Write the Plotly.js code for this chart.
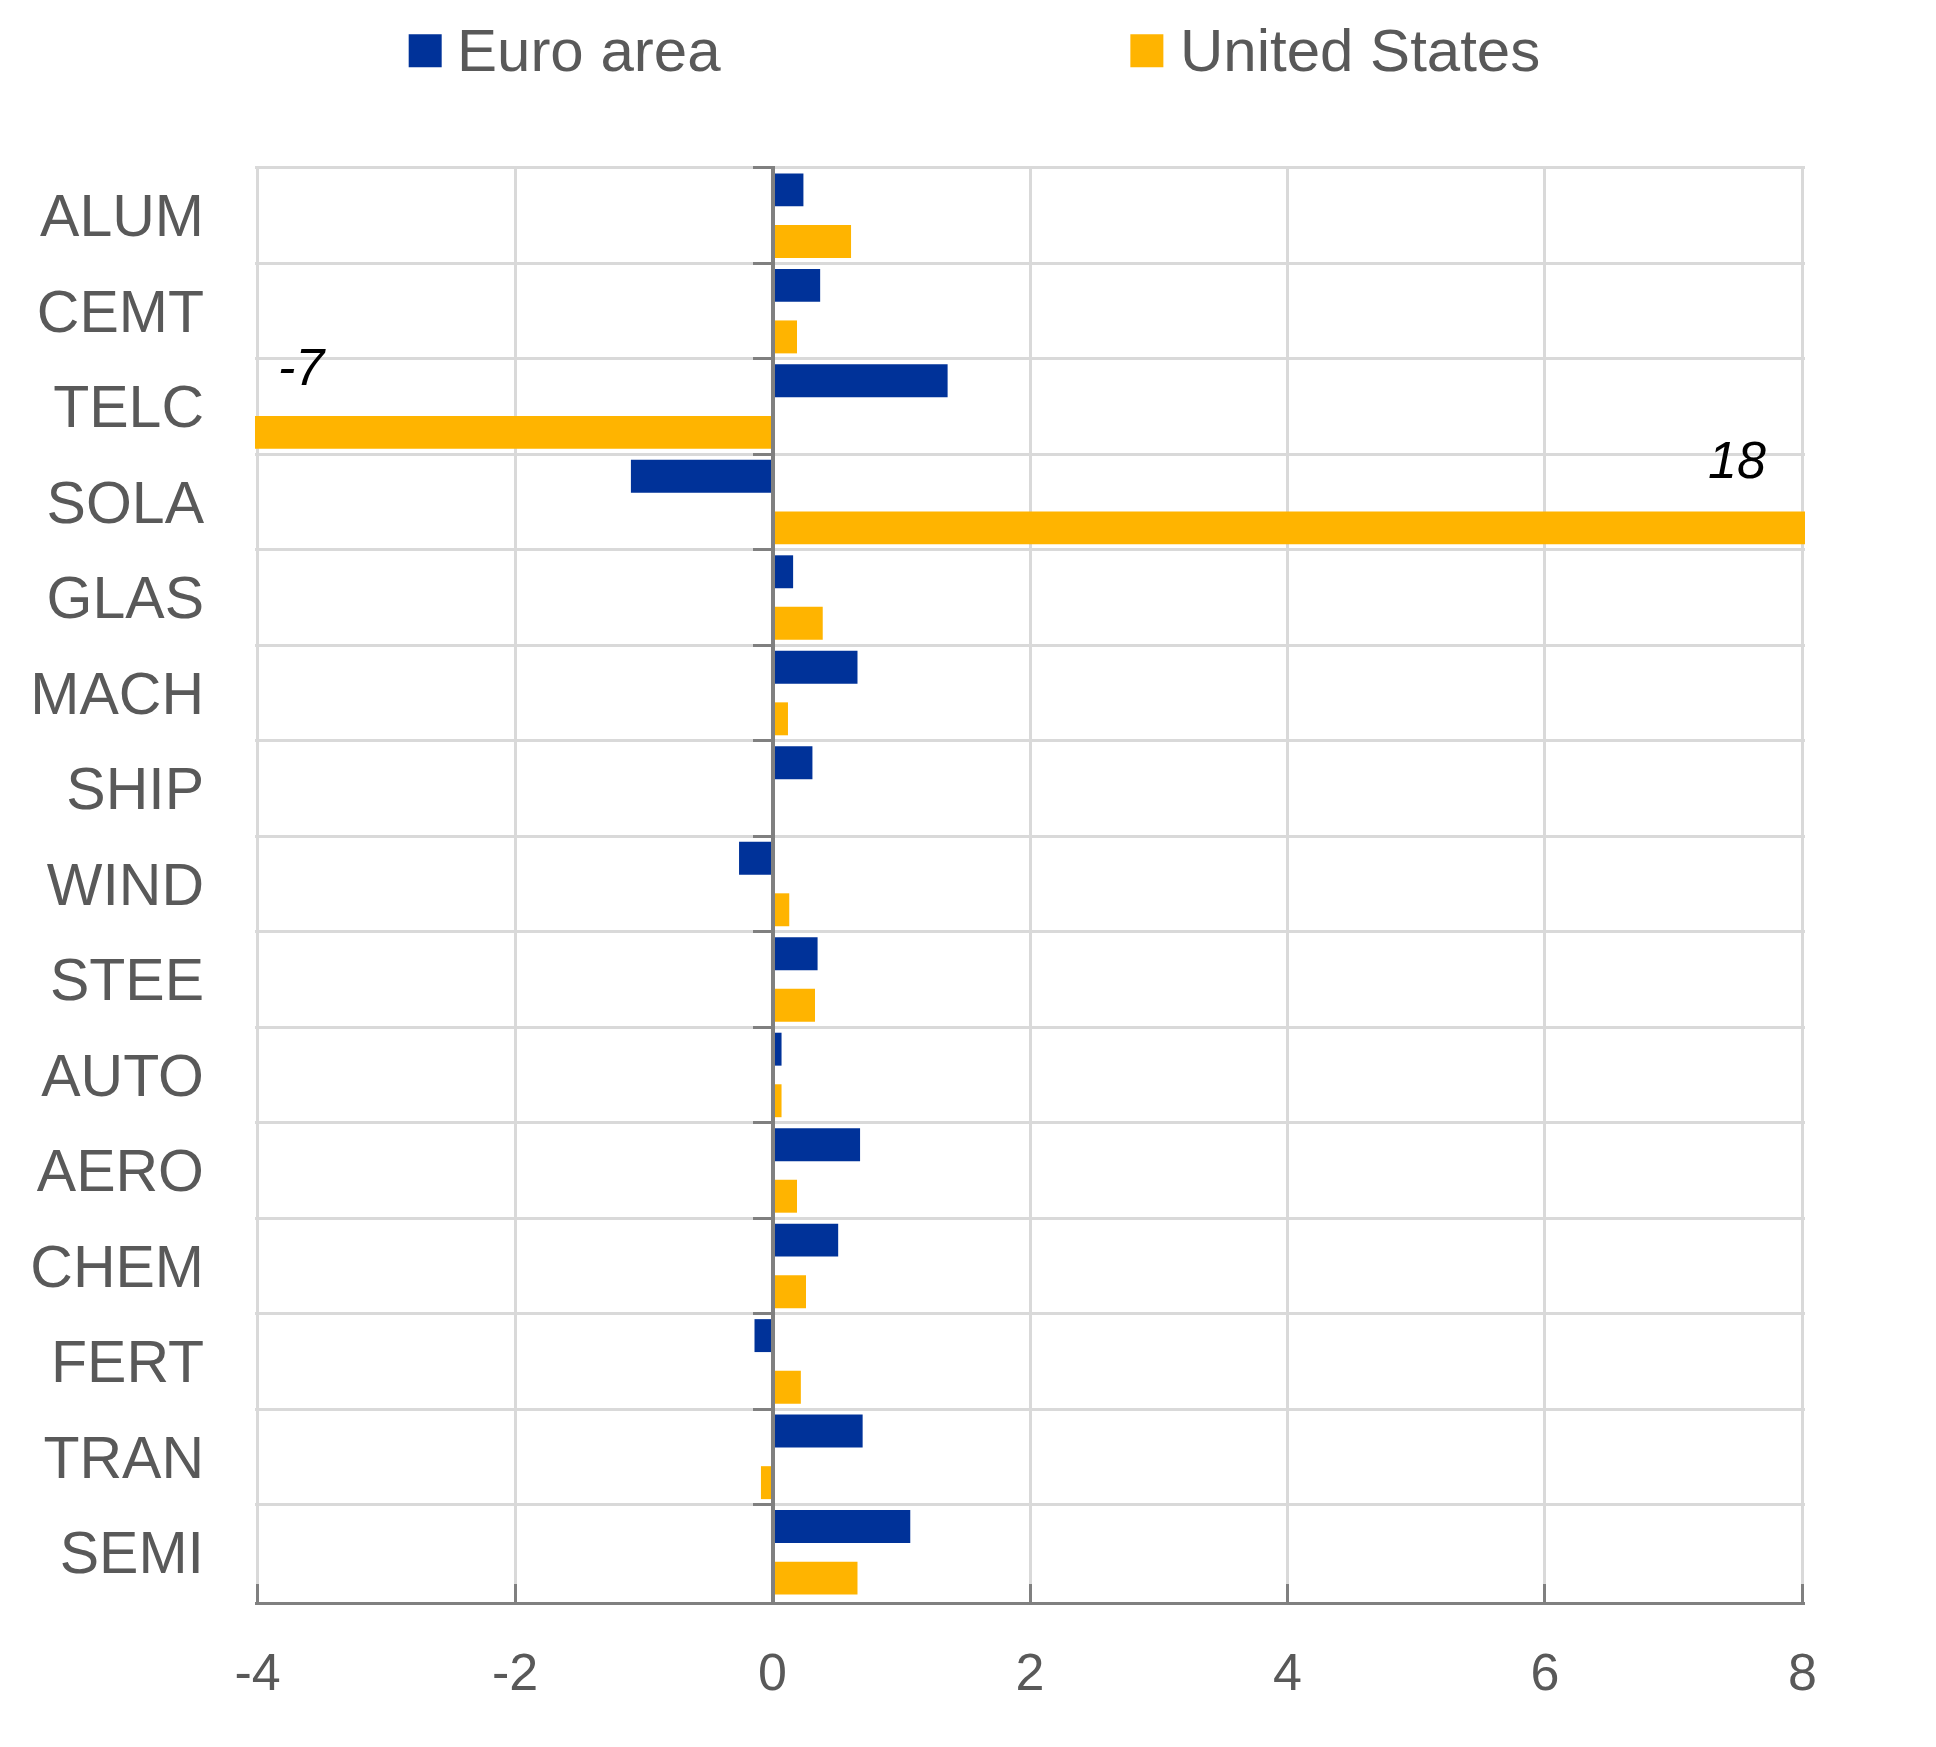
<!DOCTYPE html>
<html>
<head>
<meta charset="utf-8">
<script src="https://cdn.plot.ly/plotly-3.0.1.min.js"></script>
<style>
  html, body { margin: 0; padding: 0; background: #fff; }
  #chart { width: 1936px; height: 1747px; }
</style>
</head>
<body>
<div id="chart"></div>
<script>
// ── data ──────────────────────────────────────────────
const categories   = ['ALUM', 'CEMT', 'TELC', 'SOLA', 'GLAS', 'MACH', 'SHIP', 'WIND',
                      'STEE', 'AUTO', 'AERO', 'CHEM', 'FERT', 'TRAN', 'SEMI'];
const euroArea     = [0.24, 0.37, 1.36, -1.10, 0.16, 0.66, 0.31, -0.26,
                      0.35, 0.07, 0.68, 0.51, -0.14, 0.70, 1.07];
const unitedStates = [0.61, 0.19, -7, 18, 0.39, 0.12, 0, 0.13,
                      0.33, 0.07, 0.19, 0.26, 0.22, -0.09, 0.66];
const xTickVals    = [-4, -2, 0, 2, 4, 6, 8];
const xTickText    = ['-4', '-2', '0', '2', '4', '6', '8'];
const seriesNames  = ['Euro area', 'United States'];

// ── style ─────────────────────────────────────────────
const BLUE   = '#003299';
const YELLOW = '#FFB400';
const GRID   = '#d9d9d9';
const AXIS   = '#808080';
const TEXT   = '#595959';
const FONT   = 'Arial, "Liberation Sans", sans-serif';

// plotly drops grid lines sitting exactly on the plot edge, so pad the ranges a hair
const EDGE_X = 0.02, EDGE_Y = 0.02;
const xMin = xTickVals[0], xMax = xTickVals[xTickVals.length - 1];
const xRange = [xMin - EDGE_X, xMax + EDGE_X];
const yRange = [categories.length - 0.5 + EDGE_Y, -0.5 - EDGE_Y];
const zeroPos = (0 - xRange[0]) / (xRange[1] - xRange[0]);

const BAR_W = 0.345;

const traces = [
  {
    type: 'bar', orientation: 'h', name: seriesNames[0],
    y: categories, x: euroArea,
    width: BAR_W, offset: -0.4425,
    marker: { color: BLUE, line: { width: 0 } },
    hoverinfo: 'y+x',
  },
  {
    type: 'bar', orientation: 'h', name: seriesNames[1],
    y: categories, x: unitedStates,
    width: BAR_W, offset: 0.0975,
    marker: { color: YELLOW, line: { width: 0 } },
    hoverinfo: 'y+x',
  },
  // invisible carrier so the zero-line tick axis gets drawn
  {
    type: 'scatter', mode: 'none', yaxis: 'y2',
    y: categories, x: euroArea,
    hoverinfo: 'skip', showlegend: false,
  },
];

// values that run off the axis get their number written next to the edge
const annotations = [];
unitedStates.forEach((v, i) => {
  if (v < xMin) {
    annotations.push({
      xref: 'x', yref: 'y', x: xMin, y: categories[i],
      xanchor: 'left', yanchor: 'middle', xshift: 18, yshift: 40,
      text: '<i>' + v + '</i>', showarrow: false,
      font: { family: FONT, size: 52, color: '#000' },
    });
  } else if (v > xMax) {
    annotations.push({
      xref: 'x', yref: 'y', x: xMax, y: categories[i],
      xanchor: 'right', yanchor: 'middle', xshift: -34, yshift: 42,
      text: '<i>' + v + '</i>', showarrow: false,
      font: { family: FONT, size: 52, color: '#000' },
    });
  }
});

// hand-made legend (bigger squares than plotly's own legend allows)
const legendPos = [
  { sq: 0.1098, tx: 0.1289, color: BLUE },
  { sq: 0.5754, tx: 0.5952, color: YELLOW },
];
const shapes = [];
legendPos.forEach((p, i) => {
  shapes.push({
    type: 'rect', xref: 'paper', yref: 'paper',
    xsizemode: 'pixel', ysizemode: 'pixel',
    xanchor: p.sq, yanchor: 1.0803,
    x0: -16.5, x1: 16.5, y0: -16.5, y1: 16.5,
    fillcolor: p.color, line: { width: 0 },
  });
  annotations.push({
    xref: 'paper', yref: 'paper', x: p.tx, y: 1.0803,
    xanchor: 'left', yanchor: 'middle', showarrow: false,
    text: seriesNames[i],
    font: { family: FONT, size: 60, color: TEXT },
  });
});

const layout = {
  width: 1936, height: 1747,
  margin: { l: 255, r: 131, t: 166, b: 145, pad: 0 },
  paper_bgcolor: '#fff', plot_bgcolor: '#fff',
  font: { family: FONT, color: TEXT },
  barmode: 'overlay',
  showlegend: false,
  xaxis: {
    range: xRange,
    tickmode: 'array', tickvals: xTickVals, ticktext: xTickText,
    ticks: 'inside', ticklen: 18, tickwidth: 3, tickcolor: AXIS,
    showline: true, linecolor: AXIS, linewidth: 3,
    showgrid: true, gridcolor: GRID, gridwidth: 3,
    zeroline: true, zerolinecolor: AXIS, zerolinewidth: 4,
    tickfont: { family: FONT, size: 52, color: TEXT },
    ticklabelstandoff: 23,
    fixedrange: true,
  },
  yaxis: {
    type: 'category', categoryorder: 'array', categoryarray: categories,
    range: yRange,
    tickson: 'boundaries', ticks: '',
    showgrid: true, gridcolor: GRID, gridwidth: 3,
    zeroline: false, showline: false,
    tickfont: { family: FONT, size: 59, color: TEXT },
    ticklabelstandoff: 50,
    fixedrange: true,
  },
  // vertical axis line on zero, with short ticks at each category boundary
  yaxis2: {
    type: 'category', categoryorder: 'array', categoryarray: categories,
    overlaying: 'y', anchor: 'free', position: zeroPos, side: 'left',
    range: yRange,
    tickson: 'boundaries',
    ticks: 'outside', ticklen: 18, tickwidth: 3, tickcolor: AXIS,
    showline: true, linecolor: AXIS, linewidth: 4,
    showticklabels: false, showgrid: false, zeroline: false,
    fixedrange: true,
  },
  shapes,
  annotations,
};

Plotly.newPlot('chart', traces, layout, { displayModeBar: false, staticPlot: true });
</script>
</body>
</html>
